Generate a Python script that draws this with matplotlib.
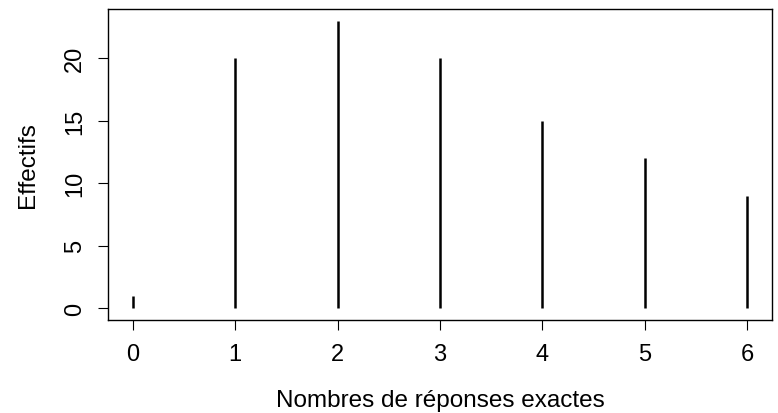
import matplotlib.pyplot as plt

reponses = [0, 1, 2, 3, 4, 5, 6]
effectifs = [1, 20, 23, 20, 15, 12, 9]
yticks = [0, 5, 10, 15, 20]

plt.rcParams['font.family'] = ['Liberation Sans', 'DejaVu Sans']

fig = plt.figure(figsize=(7.78, 4.14), dpi=100)
ax = fig.add_axes([0.1388, 0.2246, 0.8535, 0.7512])

# type="h" style: vertical stems from 0
ax.vlines(reponses, 0, effectifs, color='black', linewidth=1.8)

ax.set_xlim(-0.24, 6.24)
ax.set_ylim(-0.92, 23.92)
ax.set_xticks(reponses)
ax.set_yticks(yticks)
ax.set_yticklabels([str(v) for v in yticks], rotation=90, va='center')

ax.tick_params(axis='both', direction='out', length=7.5, width=0.8, labelsize=17)
ax.tick_params(axis='x', pad=9)
ax.tick_params(axis='y', pad=8.5)
for s in ax.spines.values():
    s.set_linewidth(1.0)

ax.set_xlabel('Nombres de réponses exactes', fontsize=17.5, labelpad=17)
ax.set_ylabel('Effectifs', fontsize=17.5, labelpad=18)

fig.savefig('out.png', dpi=100)
